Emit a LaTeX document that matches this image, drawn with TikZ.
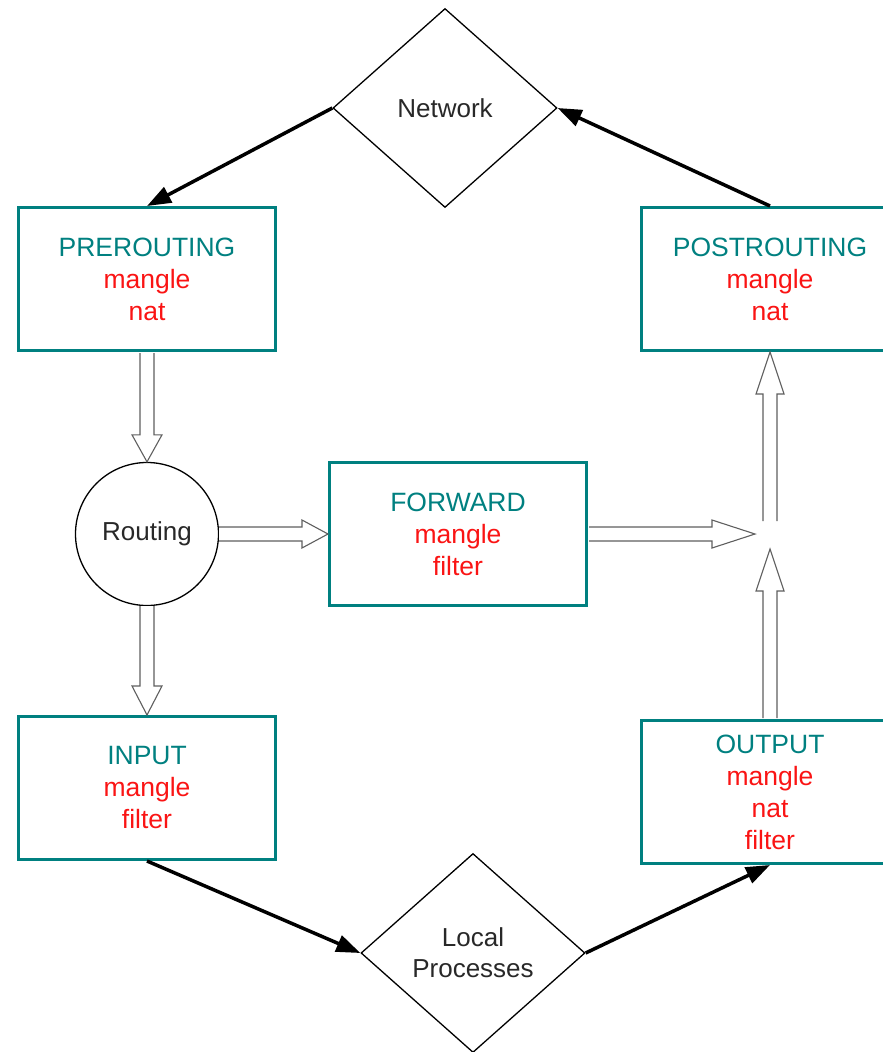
\documentclass[tikz,border=0pt]{standalone}
\usepackage{fontspec}
\setmainfont{Liberation Sans}
\usetikzlibrary{shapes.geometric,arrows.meta,calc}
\definecolor{tealc}{RGB}{0,128,128}
\definecolor{redc}{RGB}{250,20,20}
\definecolor{txt}{RGB}{40,40,40}
\definecolor{hol}{RGB}{95,95,95}
\newcommand\ttl[1]{\textcolor{tealc}{#1}}
\begin{document}
\begin{tikzpicture}[x=1pt,y=-1pt,
  box/.style={draw=tealc, line width=3pt, minimum width=257pt, minimum height=143pt,
    align=center, inner sep=0pt, text=redc, font=\fontsize{26.5}{32}\selectfont},
  dia/.style={draw=black, line width=1.3pt, shape=diamond, aspect=1.13,
    minimum width=224pt, minimum height=199pt, inner sep=0pt, align=center,
    text=txt, font=\fontsize{26}{31}\selectfont},
  rnd/.style={draw=black, line width=1.3pt, circle, minimum size=143pt, inner sep=0pt,
    text=txt, font=\fontsize{26}{31}\selectfont},
  bk/.style={line width=3.5pt, -{Triangle[length=24pt,width=17pt]}},
  hollow/.style={draw=hol, line width=1.1pt, fill=white, line join=miter}]
\useasboundingbox (0,0) rectangle (883,1052);

\node[dia] (net) at (445,108) {Network};
\node[box] (pre) at (147,279) {\ttl{PREROUTING}\\mangle\\nat};
\node[box] (post) at (770,279) {\ttl{POSTROUTING}\\mangle\\nat};
\node[rnd] (rt) at (147,534) {Routing};
\node[box] (fwd) at (458,534) {\ttl{FORWARD}\\mangle\\filter};
\node[box] (inp) at (147,788) {\ttl{INPUT}\\mangle\\filter};
\node[box] (out) at (770,792) {\ttl{OUTPUT}\\mangle\\nat\\filter};
\node[dia] (loc) at (473,953) {Local\\Processes};

\coordinate (j) at (755,534);
\coordinate (ju) at (770,549);
\coordinate (jd) at (770,521);

% black arrows
\draw[bk] (net.west) -- (pre.north);
\draw[bk] (post.north) -- (net.east);
\draw[bk] (inp.south) -- (loc.west);
\draw[bk] (loc.east) -- (out.south);

% hollow arrows: pre -> routing (down)
\draw[hollow] ($(pre.south)+(-7,1)$) -- ($(rt.north)+(-7,-27)$) -- ($(rt.north)+(-15,-27)$)
  -- (rt.north) -- ($(rt.north)+(15,-27)$) -- ($(rt.north)+(7,-27)$) -- ($(pre.south)+(7,1)$);
% routing -> input (down)
\draw[hollow] ($(rt.south)+(-7,0)$) -- ($(inp.north)+(-7,-29)$) -- ($(inp.north)+(-15,-29)$)
  -- (inp.north) -- ($(inp.north)+(15,-29)$) -- ($(inp.north)+(7,-29)$) -- ($(rt.south)+(7,0)$);
% routing -> forward (right)
\draw[hollow] ($(rt.east)+(0,-7)$) -- ($(fwd.west)+(-26,-7)$) -- ($(fwd.west)+(-26,-14)$)
  -- (fwd.west) -- ($(fwd.west)+(-26,14)$) -- ($(fwd.west)+(-26,7)$) -- ($(rt.east)+(0,7)$);
% forward -> junction (right)
\draw[hollow] ($(fwd.east)+(1,-7)$) -- ($(j)+(-43,-7)$) -- ($(j)+(-43,-14)$)
  -- (j) -- ($(j)+(-43,14)$) -- ($(j)+(-43,7)$) -- ($(fwd.east)+(1,7)$);
% output -> junction (up)
\draw[hollow] ($(out.north)+(-7,-1)$) -- ($(ju)+(-7,42)$) -- ($(ju)+(-14,42)$)
  -- (ju) -- ($(ju)+(14,42)$) -- ($(ju)+(7,42)$) -- ($(out.north)+(7,-1)$);
% junction -> postrouting (up)
\draw[hollow] ($(jd)+(-7,0)$) -- ($(post.south)+(-7,42)$) -- ($(post.south)+(-14,42)$)
  -- (post.south) -- ($(post.south)+(14,42)$) -- ($(post.south)+(7,42)$) -- ($(jd)+(7,0)$);
\end{tikzpicture}
\end{document}
